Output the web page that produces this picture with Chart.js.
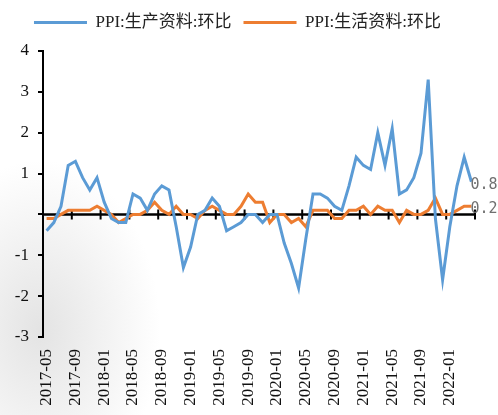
<!DOCTYPE html>
<html>
<head>
<meta charset="utf-8">
<script src="https://cdn.jsdelivr.net/npm/chart.js@4/dist/chart.umd.min.js"></script>
<style>
  html, body { margin: 0; padding: 0; }
  body {
    width: 498px; height: 415px; overflow: hidden;
    background: radial-gradient(ellipse 120px 170px at 40px 330px, rgba(205, 205, 205, 0.55), rgba(255, 255, 255, 0) 100%), #fff;
  }
  #wrap { position: relative; width: 498px; height: 415px; }
</style>
</head>
<body>
<div id="wrap"><canvas id="ppiChart"></canvas></div>
<script>
const months = [
  '2017-05', '2017-06', '2017-07', '2017-08', '2017-09', '2017-10', '2017-11', '2017-12',
  '2018-01', '2018-02', '2018-03', '2018-04', '2018-05', '2018-06', '2018-07', '2018-08',
  '2018-09', '2018-10', '2018-11', '2018-12', '2019-01', '2019-02', '2019-03', '2019-04',
  '2019-05', '2019-06', '2019-07', '2019-08', '2019-09', '2019-10', '2019-11', '2019-12',
  '2020-01', '2020-02', '2020-03', '2020-04', '2020-05', '2020-06', '2020-07', '2020-08',
  '2020-09', '2020-10', '2020-11', '2020-12', '2021-01', '2021-02', '2021-03', '2021-04',
  '2021-05', '2021-06', '2021-07', '2021-08', '2021-09', '2021-10', '2021-11', '2021-12',
  '2022-01', '2022-02', '2022-03', '2022-04',
];

// PPI: 生产资料: 环比 (%)
const producerGoods = [
  -0.4, -0.2, 0.2, 1.2, 1.3, 0.9, 0.6, 0.9, 0.3, -0.1, -0.2, -0.2,
  0.5, 0.4, 0.1, 0.5, 0.7, 0.6, -0.3, -1.3, -0.8, 0.0, 0.1, 0.4,
  0.2, -0.4, -0.3, -0.2, 0.0, 0.0, -0.2, 0.0, 0.0, -0.7, -1.2, -1.8,
  -0.6, 0.5, 0.5, 0.4, 0.2, 0.1, 0.7, 1.4, 1.2, 1.1, 2.0, 1.2,
  2.1, 0.5, 0.6, 0.9, 1.5, 3.3, -0.1, -1.6, -0.3, 0.7, 1.4, 0.8,
];

// PPI: 生活资料: 环比 (%)
const consumerGoods = [
  -0.1, -0.1, 0.0, 0.1, 0.1, 0.1, 0.1, 0.2, 0.1, 0.0, -0.2, -0.1,
  0.0, 0.0, 0.1, 0.3, 0.1, 0.0, 0.2, 0.0, 0.0, -0.1, 0.1, 0.2,
  0.1, 0.0, 0.0, 0.2, 0.5, 0.3, 0.3, -0.2, 0.0, 0.0, -0.2, -0.1,
  -0.3, 0.1, 0.1, 0.1, -0.1, -0.1, 0.1, 0.1, 0.2, 0.0, 0.2, 0.1,
  0.1, -0.2, 0.1, 0.0, 0.0, 0.1, 0.4, 0.0, 0.0, 0.1, 0.2, 0.2,
];

const yTicks = [-3, -2, -1, 0, 1, 2, 3, 4];
const labelEvery = 4;

const serif = "'Liberation Serif', 'Times New Roman', serif";
const cjkSerif = "'Liberation Serif', 'Noto Sans CJK SC', serif";

// give the legend some extra room underneath so the plot starts lower
const legendGapPlugin = {
  id: 'legendGap',
  beforeInit(chart) {
    const fit = chart.legend.fit;
    chart.legend.fit = function () {
      fit.bind(chart.legend)();
      this.height += 10;
    };
  },
};

// Zero axis with crossing tick marks every 4 months (drawn under the lines)
const zeroAxisPlugin = {
  id: 'zeroAxis',
  beforeDatasetsDraw(chart) {
    const { ctx, chartArea, scales: { x, y } } = chart;
    const y0 = y.getPixelForValue(0);
    const half = (x.getPixelForValue(1) - x.getPixelForValue(0)) / 2;
    ctx.save();
    ctx.strokeStyle = '#000';
    ctx.lineWidth = 2.5;
    ctx.beginPath();
    ctx.moveTo(chartArea.left, y0);
    ctx.lineTo(chartArea.right, y0);
    ctx.stroke();
    ctx.lineWidth = 2;
    ctx.beginPath();
    for (let i = 0; i <= months.length; i += labelEvery) {
      const px = i < months.length ? x.getPixelForValue(i) - half : x.getPixelForValue(months.length - 1) + half;
      ctx.moveTo(px, y0 - 5);
      ctx.lineTo(px, y0 + 5);
    }
    ctx.stroke();
    ctx.restore();
  },
};

// Last-value labels at the right end of each line
const endLabelPlugin = {
  id: 'endLabels',
  afterDatasetsDraw(chart) {
    const { ctx } = chart;
    ctx.save();
    ctx.font = "15px 'DejaVu Sans Mono', monospace";
    ctx.fillStyle = '#707070';
    ctx.textAlign = 'left';
    ctx.textBaseline = 'middle';
    chart.data.datasets.forEach((ds, di) => {
      const meta = chart.getDatasetMeta(di);
      const pt = meta.data[meta.data.length - 1];
      const v = ds.data[ds.data.length - 1];
      ctx.fillText(v.toFixed(1), pt.x - 1, pt.y + 3);
    });
    ctx.restore();
  },
};

new Chart(document.getElementById('ppiChart').getContext('2d'), {
  type: 'line',
  data: {
    labels: months,
    datasets: [
      {
        label: 'PPI:生产资料:环比',
        data: producerGoods,
        borderColor: '#5B9BD5',
        backgroundColor: '#5B9BD5',
        borderWidth: 3,
        pointRadius: 0,
        tension: 0,
        fill: false,
      },
      {
        label: 'PPI:生活资料:环比',
        data: consumerGoods,
        borderColor: '#ED7D31',
        backgroundColor: '#ED7D31',
        borderWidth: 3,
        pointRadius: 0,
        tension: 0,
        fill: false,
      },
    ],
  },
  options: {
    responsive: true,
    maintainAspectRatio: false,
    animation: false,
    layout: { padding: { left: 0, right: 23, top: 2, bottom: 0 } },
    plugins: {
      legend: {
        display: true,
        position: 'top',
        labels: {
          color: '#222',
          font: { family: cjkSerif, size: 17 },
          usePointStyle: true,
          pointStyle: 'line',
          pointStyleWidth: 53,
          boxHeight: 17,
          padding: 12,
        },
      },
      tooltip: { enabled: false },
    },
    scales: {
      x: {
        type: 'category',
        offset: true,
        border: { display: false },
        grid: { display: false, drawTicks: false },
        afterFit(scale) { scale.height = 78; },
        ticks: {
          autoSkip: false,
          minRotation: 90,
          maxRotation: 90,
          padding: 12,
          color: '#111',
          font: { family: serif, size: 17 },
          callback(value, index) { return index % labelEvery === 0 ? months[index] : null; },
        },
      },
      y: {
        min: yTicks[0],
        max: yTicks[yTicks.length - 1],
        border: { display: true, color: '#000', width: 2 },
        grid: { drawOnChartArea: false, drawTicks: true, tickLength: 5, color: '#000', lineWidth: 2 },
        afterBuildTicks(scale) { scale.ticks = yTicks.map(v => ({ value: v })); },
        afterFit(scale) { scale.width = 43; },
        ticks: {
          padding: 9,
          color: '#111',
          font: { family: serif, size: 17 },
          callback(value) { return value === 0 ? '' : value; },
        },
      },
    },
  },
  plugins: [legendGapPlugin, zeroAxisPlugin, endLabelPlugin],
});
</script>
</body>
</html>
